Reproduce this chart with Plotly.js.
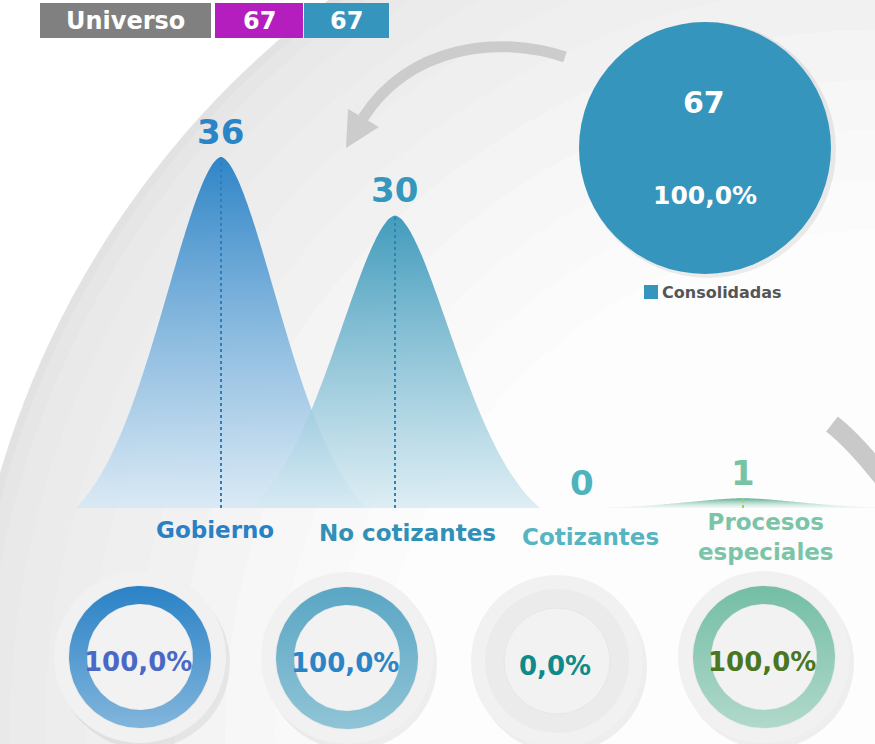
<!DOCTYPE html>
<html>
<head>
<meta charset="utf-8">
<script src="https://cdn.plot.ly/plotly-3.0.1.min.js"></script>
<style>html,body{margin:0;padding:0;background:#fff;}#chart{width:875px;height:744px;}</style>
</head>
<body>
<div id="chart"></div>
<script>
// ---------------- data ----------------
const categories = ['Gobierno', 'No cotizantes', 'Cotizantes', 'Procesos especiales'];
const categoryLabels = ['Gobierno', 'No cotizantes', 'Cotizantes', 'Procesos<br>especiales'];
const counts = [36, 30, 0, 1];
const progressPct = [100.0, 100.0, 0.0, 100.0];
const headerLabel = 'Universo';
const headerValues = [67, 67];
const pieLabels = ['Consolidadas'];
const pieValues = [67];
const piePct = [100.0];

// ---------------- styles ----------------
const W = 875, H = 744;
const X = px => px / W;
const Y = py => 1 - py / H;
const FONT = 'DejaVu Sans, Verdana, sans-serif';
const fmtPct = v => v.toFixed(1).replace('.', ',') + '%';

const curveTop = ['rgba(42,130,198,0.97)', 'rgba(53,149,184,0.93)', 'rgba(79,180,190,0.9)', 'rgba(84,170,138,0.95)'];
const curveBottom = ['rgba(214,232,245,0.85)', 'rgba(214,234,242,0.8)', 'rgba(214,236,240,0.6)', 'rgba(225,242,236,0.4)'];
const valueColors = ['#2a84c6', '#3597bc', '#4eb3bd', '#79c3a5'];
const labelColors = ['#2a80c4', '#3190b7', '#56b5c1', '#7cc4a8'];
const dotColors = ['#2a7fc0', '#2b87b5', '#7fbfc5', '#a8cf4a'];
const valueShift = [-1, -1, 13, 0];
const labelShift = [[-6, -22], [12, -25], [21, -29], [23, -29]];

const ringTop = ['#2a82c6', '#5aa6c4', '#d5dcde', '#74bea5'];
const ringBottom = ['#82b5dc', '#90c4d6', '#d5dcde', '#b0d9ca'];
const pctColors = ['#4a69c6', '#2a84c6', '#0e8a8a', '#4a7621'];
const donutCenters = [[140, 657], [347, 658], [557, 661], [764, 657]];

// main axis geometry: category 0 at 221px, step 174px; baseline 508px, 9.75px per unit
const x0px = 221, stepPx = 174;
const xRange = [(0 - x0px) / stepPx, (W - x0px) / stepPx];
const yDomain = [(H - 508) / H, (H - 118) / H];
const yRange = [0, 40];

// ---------------- traces ----------------
const traces = [];
const halfW = 145 / stepPx, bW = 88 / stepPx, q = 1.7;
const K = d => Math.exp(-Math.pow(Math.abs(d) / bW, q));
const cK = K(halfW);
const N = 161;

counts.forEach((v, i) => {
  if (v > 0) {
    const xs = [], ys = [];
    for (let k = 0; k < N; k++) {
      const d = -halfW + 2 * halfW * k / (N - 1);
      xs.push(i + d);
      ys.push(v * (K(d) - cK) / (1 - cK));
    }
    traces.push({
      type: 'scatter', mode: 'lines', x: xs, y: ys, xaxis: 'x', yaxis: 'y',
      fill: 'tozeroy', line: {width: 0, color: curveTop[i], shape: 'spline'},
      fillgradient: {type: 'vertical', start: 0, stop: v,
        colorscale: [[0, curveBottom[i]], [1, curveTop[i]]]},
      hoverinfo: 'skip', showlegend: false
    });
  }
});
counts.forEach((v, i) => {
  traces.push({
    type: 'scatter', mode: 'lines', x: [i, i], y: [0, v], xaxis: 'x', yaxis: 'y',
    line: {color: dotColors[i], width: 2, dash: 'dot'}, hoverinfo: 'skip', showlegend: false
  });
});

// donut rings (pixel overlay axis x2/y2, y up)
const rOut = 71, rIn = 53;
progressPct.forEach((p, i) => {
  const [cx, cyp] = donutCenters[i];
  const cy = H - cyp;
  const frac = p / 100;
  if (frac <= 0) return;
  const steps = Math.max(2, Math.round(180 * frac));
  const xs = [], ys = [];
  for (let k = 0; k <= steps; k++) {
    const th = Math.PI / 2 - 2 * Math.PI * frac * k / steps;
    xs.push(cx + rOut * Math.cos(th)); ys.push(cy + rOut * Math.sin(th));
  }
  for (let k = steps; k >= 0; k--) {
    const th = Math.PI / 2 - 2 * Math.PI * frac * k / steps;
    xs.push(cx + rIn * Math.cos(th)); ys.push(cy + rIn * Math.sin(th));
  }
  traces.push({
    type: 'scatter', mode: 'lines', x: xs, y: ys, xaxis: 'x2', yaxis: 'y2',
    fill: 'toself', line: {width: 0, color: ringTop[i]},
    fillgradient: {type: 'vertical', start: cy - rOut, stop: cy + rOut,
      colorscale: [[0, ringBottom[i]], [1, ringTop[i]]]},
    hoverinfo: 'skip', showlegend: false
  });
});

// pie
const pieColor = '#3595bd';
traces.push({
  type: 'pie', labels: pieLabels, values: pieValues, sort: false,
  marker: {colors: [pieColor], line: {width: 0}},
  textinfo: 'none', hoverinfo: 'skip', showlegend: false,
  domain: {x: [X(579), X(831)], y: [Y(274), Y(22)]}
});

// ---------------- shapes ----------------
const shapes = [];
const circ = (cx, cy, r, fill, line) => ({
  type: 'circle', xref: 'paper', yref: 'paper', layer: 'below',
  x0: X(cx - r), x1: X(cx + r), y0: Y(cy + r), y1: Y(cy - r),
  fillcolor: fill, line: line || {width: 0}
});
// background large disc with faux radial gradient
const bgRings = [[912, '#e2e2e2'], [904, '#e6e6e6'], [890, '#e9e9e9'], [865, '#ebebeb'], [830, '#ededed'],
  [790, '#efefef'], [745, '#f1f1f1'], [700, '#f4f4f4'], [650, '#f7f7f7'], [600, '#f9f9f9'],
  [550, '#fbfbfb'], [500, '#fdfdfd']];
bgRings.forEach(([r, c]) => shapes.push(circ(875, 730, r, c)));

// arrows
const P = (x, y) => `${X(x)},${Y(y)}`;
shapes.push({type: 'path', xref: 'paper', yref: 'paper', layer: 'below',
  path: `M${P(565, 57)} C${P(500, 35)} ${P(410, 45)} ${P(363, 118)}`,
  line: {color: '#cccccc', width: 11}, fillcolor: 'rgba(0,0,0,0)'});
shapes.push({type: 'path', xref: 'paper', yref: 'paper', layer: 'below',
  path: `M${P(348, 109)} L${P(379, 127)} L${P(346, 148)} Z`,
  line: {width: 0}, fillcolor: '#cccccc'});
shapes.push({type: 'path', xref: 'paper', yref: 'paper', layer: 'below',
  path: `M${P(832, 424)} Q${P(856, 443)} ${P(886, 482)}`,
  line: {color: '#c9c9c9', width: 19}, fillcolor: 'rgba(0,0,0,0)'});

// pie shadow
shapes.push(circ(708, 150, 128, 'rgba(0,0,0,0.07)'));

// donut decorations
donutCenters.forEach(([cx, cy]) => {
  shapes.push(circ(cx + 4, cy + 6, 86, 'rgba(0,0,0,0.06)'));
  shapes.push(circ(cx, cy, 86, '#f1f1f1'));
  shapes.push(circ(cx, cy, 72, '#ebebeb'));
  shapes.push(circ(cx, cy, 53, '#f2f2f2', {color: '#e6e6e6', width: 1}));
});

// header boxes
const hdr = [[40, 211, '#808080'], [215, 303, '#b41dbe'], [304, 389, '#3595bd']];
hdr.forEach(([a, b, c]) => shapes.push({type: 'rect', xref: 'paper', yref: 'paper', layer: 'above',
  x0: X(a), x1: X(b), y0: Y(38), y1: Y(3), fillcolor: c, line: {width: 0}}));

// legend swatch
shapes.push({type: 'rect', xref: 'paper', yref: 'paper', layer: 'above',
  x0: X(644), x1: X(658), y0: Y(299), y1: Y(285), fillcolor: pieColor, line: {width: 0}});

// ---------------- annotations ----------------
const ann = [];
const txt = (x, y, text, size, color, extra) => Object.assign({
  xref: 'paper', yref: 'paper', x: X(x), y: Y(y), text: text, showarrow: false,
  xanchor: 'center', yanchor: 'middle',
  font: {family: FONT, size: size, color: color, weight: 'bold'}
}, extra || {});

ann.push(txt(126, 21, headerLabel, 24, '#ffffff'));
ann.push(txt(259, 21, String(headerValues[0]), 24, '#ffffff'));
ann.push(txt(346, 21, String(headerValues[1]), 24, '#ffffff'));

counts.forEach((v, i) => {
  ann.push({xref: 'x', yref: 'y', x: i, y: v, yshift: 25, xshift: valueShift[i], text: String(v),
    showarrow: false, font: {family: FONT, size: 34, color: valueColors[i], weight: 'bold'}});
  ann.push({xref: 'x', yref: 'y', x: i, y: 0, yshift: labelShift[i][1], xshift: labelShift[i][0],
    text: categoryLabels[i], showarrow: false,
    font: {family: FONT, size: 23, color: labelColors[i], weight: 'bold'}});
});

// pie texts
ann.push(txt(704, 103, String(pieValues[0]), 30, '#ffffff'));
ann.push(txt(705, 195, fmtPct(piePct[0]), 25, '#ffffff'));
ann.push(txt(660, 292, pieLabels[0], 16, '#555555', {xanchor: 'left'}));

// donut texts
progressPct.forEach((p, i) => {
  const [cx, cy] = donutCenters[i];
  ann.push(txt(cx - 2, cy + 5, fmtPct(p), 26, pctColors[i]));
});

// ---------------- layout ----------------
const layout = {
  width: W, height: H, margin: {l: 0, r: 0, t: 0, b: 0},
  paper_bgcolor: '#ffffff', plot_bgcolor: 'rgba(0,0,0,0)', showlegend: false,
  xaxis: {domain: [0, 1], range: xRange, visible: false, fixedrange: true, anchor: 'y'},
  yaxis: {domain: yDomain, range: yRange, visible: false, fixedrange: true, anchor: 'x'},
  xaxis2: {domain: [0, 1], range: [0, W], visible: false, fixedrange: true, anchor: 'y2'},
  yaxis2: {domain: [0, 1], range: [0, H], visible: false, fixedrange: true, anchor: 'x2'},
  shapes: shapes, annotations: ann
};

Plotly.newPlot('chart', traces, layout, {displayModeBar: false, staticPlot: true});
</script>
</body>
</html>
